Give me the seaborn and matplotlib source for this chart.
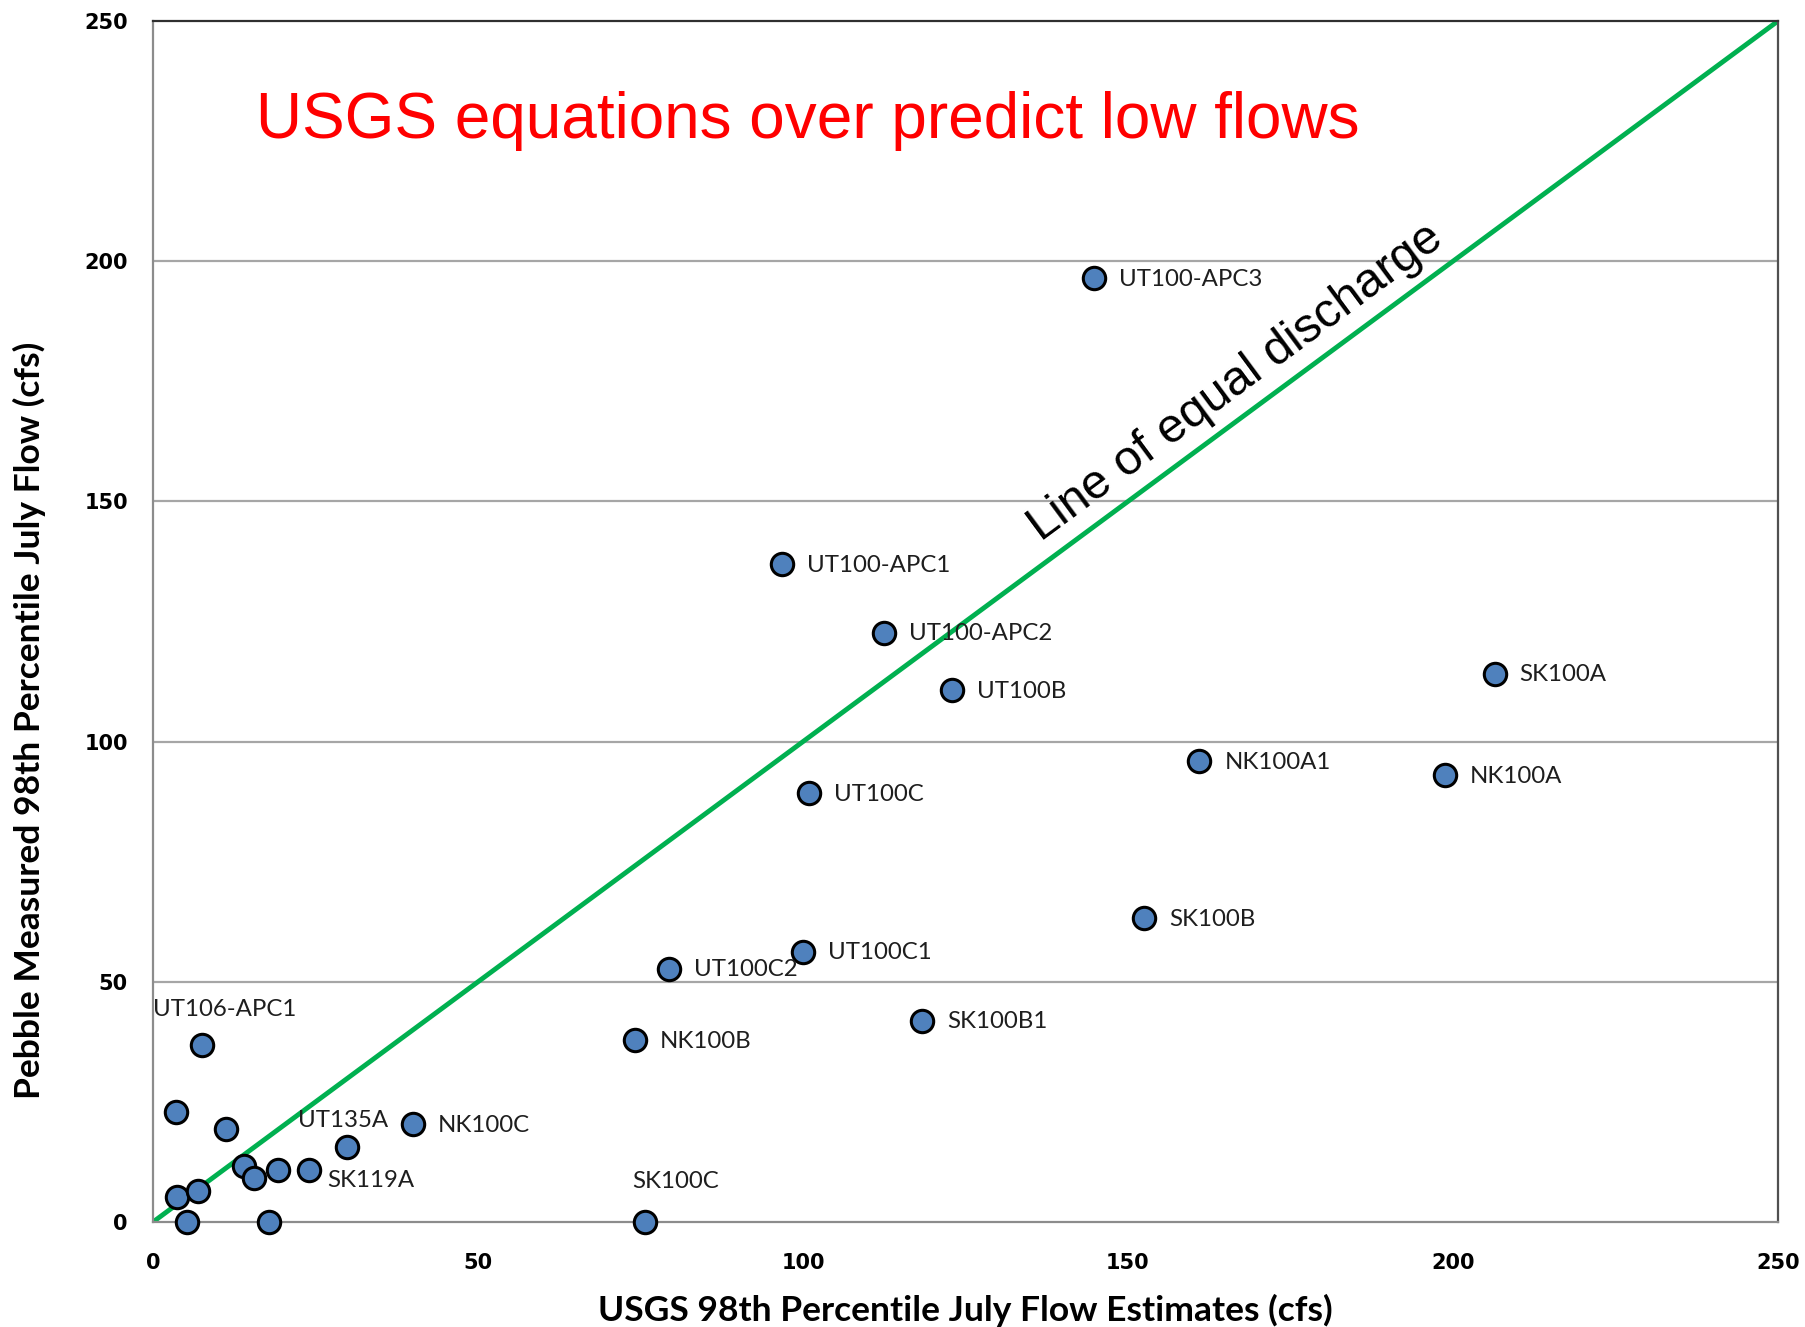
import matplotlib
matplotlib.use("Agg")
import matplotlib.pyplot as plt
import seaborn as sns
import pandas as pd

# ---- data ----
site_names = ["UT100-APC3", "UT100-APC1", "UT100-APC2", "UT100B", "SK100A", "NK100A1",
              "NK100A", "UT100C", "SK100B", "UT100C1", "UT100C2", "SK100B1", "NK100B",
              "UT106-APC1", "", "", "NK100C", "UT135A", "", "", "", "SK119A", "", "",
              "", "", "SK100C"]
usgs_estimate = [144.7, 96.8, 112.4, 122.9, 206.4, 161.0, 198.8, 100.9, 152.5, 100.0,
                 79.4, 118.3, 74.1, 7.6, 3.6, 11.3, 40.0, 29.8, 14.0, 15.6, 19.3, 24.0,
                 3.7, 7.0, 5.3, 17.8, 75.7]
pebble_measured = [196.5, 136.9, 122.7, 110.7, 114.1, 95.9, 93.0, 89.2, 63.3, 56.3,
                   52.7, 41.9, 37.9, 36.8, 22.9, 19.3, 20.4, 15.7, 11.6, 9.2, 10.8, 10.8,
                   5.3, 6.4, 0.0, 0.0, 0.0]
equal_line_x = [0, 250]
equal_line_y = [0, 250]
x_ticks = [0, 50, 100, 150, 200, 250]
y_ticks = [0, 50, 100, 150, 200, 250]

title_text = "USGS equations over predict low flows"
line_text = "Line of equal discharge"
x_label = "USGS 98th Percentile July Flow Estimates (cfs)"
y_label = "Pebble Measured 98th Percentile July Flow (cfs)"

# label offsets (points) for special labels; default is to the right
label_offsets = {
    "UT106-APC1": (-35.6, 25.7),
    "UT135A": (-34.8, 19.0),
    "SK119A": (13.3, -7.5),
    "SK100C": (-9.1, 29.0),
}

df = pd.DataFrame({"site": site_names, "usgs": usgs_estimate, "pebble": pebble_measured})

sns.set_theme(style="white")
plt.rcParams["font.family"] = ["Lato", "DejaVu Sans"]

fig = plt.figure(figsize=(18.06, 13.27), dpi=100)
ax = fig.add_axes([153 / 1806, 1 - 1222 / 1327, 1625 / 1806, 1201 / 1327])

ax.set_xlim(0, 250)
ax.set_ylim(0, 250)
for yv in y_ticks[1:-1]:
    ax.axhline(yv, color="#A6A6A6", lw=1.6, zorder=0)

sns.lineplot(x=equal_line_x, y=equal_line_y, ax=ax, color="#00B050", lw=3.5, zorder=2)

sns.scatterplot(data=df, x="usgs", y="pebble", ax=ax, s=260, color="#4F81BD",
                edgecolor="black", linewidth=2.2, zorder=3, clip_on=False)

for name, xv, yv in zip(site_names, usgs_estimate, pebble_measured):
    if not name:
        continue
    dx, dy = label_offsets.get(name, (18.0, -0.8))
    ax.annotate(name, (xv, yv), xytext=(dx, dy), textcoords="offset points",
                ha="left", va="center", fontsize=17.3, color="#1E1E1E",
                family=["Lato", "DejaVu Sans"], zorder=4)

ax.text(15.8, 225.6, title_text, color="#FF0000", fontsize=46,
        family=["Liberation Sans", "DejaVu Sans"], ha="left", va="baseline")
ax.text(166.6, 174.7, line_text, color="black", fontsize=35, rotation=36.47,
        rotation_mode="anchor", family=["Liberation Sans", "DejaVu Sans"],
        ha="center", va="center")

ax.set_xticks(x_ticks)
ax.set_yticks(y_ticks)
ax.tick_params(axis="both", which="major", direction="out", length=8, width=1.4,
               color="#8C8C8C", labelsize=15, pad=10, labelcolor="black")
for lab in ax.get_xticklabels() + ax.get_yticklabels():
    lab.set_fontweight("bold")
    lab.set_family(["DejaVu Sans"])
ax.tick_params(axis="x", pad=14)
ax.grid(False)

for side in ["left", "bottom"]:
    ax.spines[side].set_color("#8C8C8C")
    ax.spines[side].set_linewidth(1.6)
ax.spines["top"].set_color("#303030")
ax.spines["top"].set_linewidth(1.6)
ax.spines["right"].set_color("#505050")
ax.spines["right"].set_linewidth(1.6)

ax.set_xlabel(x_label, fontsize=25.5, fontweight="bold", labelpad=15, color="black")
ax.set_ylabel(y_label, fontsize=25.5, fontweight="bold", color="black")
ax.yaxis.set_label_coords(-0.066, 0.418)

fig.savefig("out.png", dpi=100, facecolor="white")
